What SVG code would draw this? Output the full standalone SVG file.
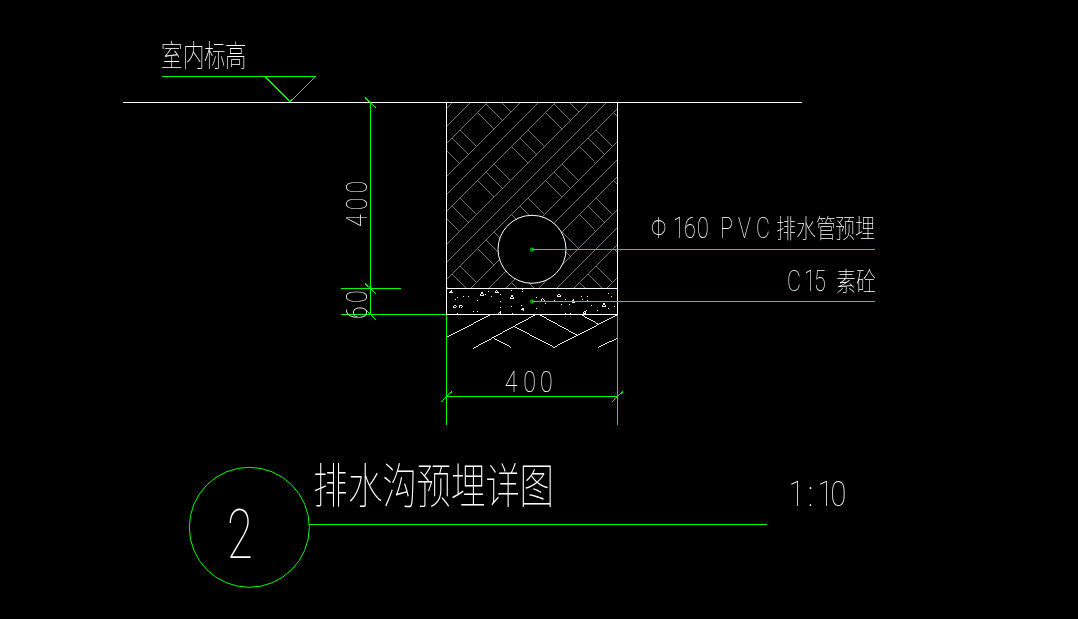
<svg xmlns="http://www.w3.org/2000/svg" xmlns:xlink="http://www.w3.org/1999/xlink" width="1078" height="619" viewBox="0 0 1078 619">
<style>
.g{stroke:#0f0;stroke-width:1;fill:none;shape-rendering:crispEdges}
.gc{stroke:#0f0;stroke-width:1;fill:none}
.w{stroke:#fff;stroke-width:1;fill:none;shape-rendering:crispEdges}
.wd{stroke:#fff;stroke-width:.9;fill:none;shape-rendering:crispEdges}
.h{stroke:#a0a0a0;stroke-width:.72;fill:none;shape-rendering:crispEdges}
.f{filter:url(#n)}
text{font-family:"Roboto","Noto Sans CJK SC",sans-serif;font-weight:100;fill:#fff}
</style>
<defs>
<filter id="n" filterUnits="userSpaceOnUse" x="0" y="0" width="1078" height="619" color-interpolation-filters="sRGB"><feOffset dx="0" dy="0"/></filter>
<clipPath id="hc"><rect x="447" y="103" width="170" height="185"/></clipPath>
<path id="t" class="h" d="M477.25 112.75l16.65 16.65M486 104l16.65 16.65M494.5 95.5l16.65 16.65"/>
<g id="r">
<use xlink:href="#t" href="#t" transform="translate(-102 102)"/>
<use xlink:href="#t" href="#t" transform="translate(-68 68)"/>
<use xlink:href="#t" href="#t" transform="translate(-34 34)"/>
<use xlink:href="#t" href="#t"/>
<use xlink:href="#t" href="#t" transform="translate(34 -34)"/>
<use xlink:href="#t" href="#t" transform="translate(68 -68)"/>
</g>
</defs>
<rect width="1078" height="619" fill="#000"/>
<g id="floor-level" class="f">
<path class="w" d="M123 102.500H802"/>
<path class="g" d="M162 76.500H316"/>
<path class="g" d="M265 76.500L290 101.700L315.700 76.500"/>
<text transform="translate(161 66) scale(1 1.4)" font-size="21.500" x="0 22 43 64">室内标高</text>
</g>
<g id="trench-fill">
<g clip-path="url(#hc)">
<path class="h" d="M255.300 300L455.300 100M272.700 300L472.700 100M290 300L490 100M323.300 300L523.300 100M340.700 300L540.700 100M358 300L558 100M391.300 300L591.300 100M408.700 300L608.700 100M426 300L626 100M459.300 300L659.300 100M476.700 300L676.700 100M494 300L694 100M527.300 300L727.300 100M544.700 300L744.700 100M562 300L762 100M595.300 300L795.300 100"/>
<use xlink:href="#r" href="#r"/>
<use xlink:href="#r" href="#r" transform="translate(34 34)"/>
<use xlink:href="#r" href="#r" transform="translate(68 68)"/>
<use xlink:href="#r" href="#r" transform="translate(102 102)"/>
<use xlink:href="#r" href="#r" transform="translate(136 136)"/>
</g>
</g>
<g id="trench-outline">
<path class="w" d="M446.500 102.500V314.500M617.500 102.500V314.500M446.500 288.500H617.500M446.500 314.500H617.500"/>
</g>
<g id="pipe">
<circle cx="532" cy="249.300" r="34" fill="#000" stroke="#fff" stroke-width="1"/>
</g>
<g id="concrete">
<path class="wd" d="M449 292.500l2-3 2 3zM480 295l2-3 2 3zM495 292l2-1.500 2 2zM510 298l2-3 2 3zM453 307l2-2 1 .5v1.500zM459 305.500h3l-1.500 2zM541 301l1.500-3 2 3zM556.500 296l2-2 2 2zM572 300.500l1.500-1 1 3h-2zM602 306l2-3 2 3zM520.500 309l2.500-1v3zM498 314l2.500-3v3zM583 313l2-2v3z"/>
<path class="w" d="M455 299.500h1M457 297.500h1M463 296.500h1M468 296.500h1M477 300.500h1M473 311.500h1M477 311.500h1M485 294.500h1M488 291.500h1M491 296.500h1M500 294.500h1M500 301.500h1M500 307.500h1M511 290.500h1M511 306.500h1M522 289.500h1M522 291.500h1M521 305.500h1M536 297.500h1M545 303.500h1M536 308.500h1M554 300.500h1M561 304.500h1M565 299.500h1M569 304.500h1M565 313.500h1M570 313.500h1M581 296.500h1M587 296.500h1M582 299.500h1M587 300.500h1M591 305.500h1M597 310.500h1M608 293.500h1M611 296.500h1M614 306.500h1M608 308.500h1M586 310.500h1M512 313.500h1M457 313.500h1"/>
</g>
<g id="earth">
<path class="wd" d="M446.700 337.300L490 315M473.300 348.300L535 315M492.300 337.300L511 347.300M513.300 326L554 347.300L617 315M540 315L576.700 335M581.700 315L598.300 324M598.300 347.300L617.300 338.300"/>
</g>
<g id="connectors">
<path class="g" d="M370.500 102.500V314M341 288.500H401M341 314.500H446M446.500 314.500V425M617.500 314.500V425M446.500 396.500H617.500"/>
<path class="g" d="M365 97.500L375.700 107.700M365 283.500L375.700 293.500M365.700 310L375.700 320M441 401.700L451.700 391.700M612.300 401.700L622.700 391.700"/>
<path class="g" d="M532 249.500H875M532 301.500H875"/>
<circle class="gc" cx="532" cy="249.500" r="1.500"/>
<circle class="gc" cx="532" cy="301.500" r="1.500"/>
</g>
<g id="dim-400-v" class="f"><text transform="translate(367 227) rotate(-90) scale(.8 1)" font-size="29" x="0 21 42">400</text></g>
<g id="dim-60" class="f"><text transform="translate(367 319) rotate(-90) scale(.8 1)" font-size="29" x="0 20">60</text></g>
<g id="dim-400-h" class="f"><text transform="translate(0 392) scale(.8 1)" font-size="29" x="631 654 675">400</text></g>
<g id="label-pipe" class="f"><text transform="translate(0 238) scale(1 1.33)" font-size="21.500" x="651 673 684 697 712 720 738 756"><tspan>Φ160 PVC</tspan><tspan font-size="20" x="776 796 816 835 855">排水管预埋</tspan></text></g>
<g id="label-concrete" class="f"><text transform="translate(0 291) scale(1 1.33)" font-size="21.500" x="787 804 814 825"><tspan>C15 </tspan><tspan font-size="20" x="836 856">素砼</tspan></text></g>
<g id="title-marker" class="f">
<circle class="gc" cx="249.300" cy="527.300" r="60"/>
<text transform="translate(227 558) scale(.68 1)" font-size="69">2</text>
<path class="g" d="M309 524.500H767"/>
</g>
<g id="title" class="f"><text transform="translate(0 503) scale(1 1.4)" font-size="34.500" x="313 348 382.500 416.500 451 485.500 519.500">排水沟预埋详图</text></g>
<g id="scale" class="f"><text transform="translate(0 506) scale(.8 1)" font-size="36" x="986 1010 1022 1038">1:10</text></g>
</svg>
